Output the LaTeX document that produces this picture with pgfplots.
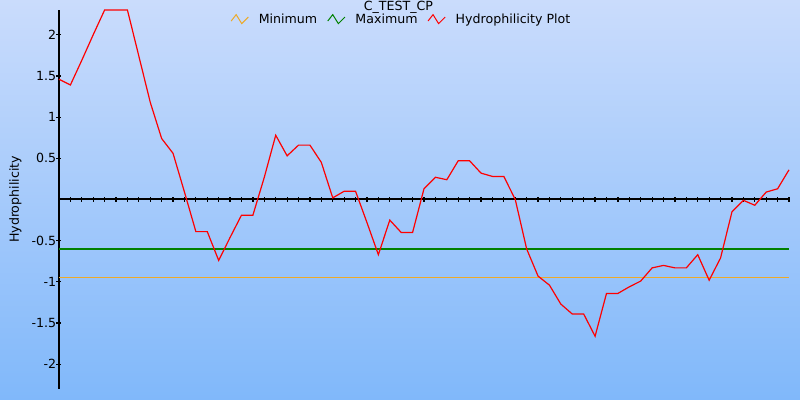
\documentclass[border=0pt]{standalone}
\usepackage{pgfplots}
\pgfplotsset{compat=1.18}
\usepackage{fontspec}
\setmainfont{DejaVu Sans}
\definecolor{bgtop}{RGB}{202,220,252}
\definecolor{bgbot}{RGB}{128,184,250}
\definecolor{minline}{RGB}{236,170,40}
\definecolor{maxline}{RGB}{0,128,0}
\newcommand{\chartfont}{\fontsize{6.3}{7.5}\selectfont}
\begin{document}
\begin{tikzpicture}
\shade[top color=bgtop, bottom color=bgbot] (0,0) rectangle (400pt,200pt);
\useasboundingbox (0,0) rectangle (400pt,200pt);
\begin{axis}[
    at={(29.5pt,5.5pt)}, anchor=south west,
    scale only axis, width=365pt, height=189.5pt,
    xmin=0, xmax=64, ymin=-2.3, ymax=2.3,
    axis x line=middle, axis y line=left,
    x axis line style={-}, y axis line style={-},
    axis line style={black, line width=1pt},
    xtick={0,...,64}, xticklabels={},
    ytick={-2,-1.5,-1,-0.5,0.5,1,1.5,2},
    yticklabels={-2,-1.5,-1,-0.5,0.5,1,1.5,2},
    tick align=center, major tick length=2.5pt,
    tick style={black, line width=0.6pt},
    tick label style={font=\chartfont},
    yticklabel style={anchor=east, inner sep=0pt, xshift=0pt},
    ylabel={Hydrophilicity},
    ylabel style={at={(axis description cs:-0.0596,0.5)}, anchor=center, font=\chartfont},
    title={C\_TEST\_CP},
    every axis title shift=0pt,
    title style={at={(axis description cs:0.465,1.0)}, anchor=base, font=\chartfont, inner sep=0pt, yshift=0pt},
    clip=false,
    legend columns=-1,
    legend style={at={(axis description cs:0.4678,0.973)}, anchor=center,
        draw=none, fill=none, font=\chartfont,
        nodes={inner sep=0pt}, column sep=5pt},
    legend image code/.code={\draw[#1, line width=0.5pt] (0pt,-0.4pt) -- (2.5pt,2.8pt) -- (5.3pt,-1.7pt) -- (8.6pt,1.6pt);},
]
\addplot[minline, line width=0.5pt] coordinates {(0,-0.95) (64,-0.95)};
\addlegendentry{Minimum}
\addplot[maxline, line width=1pt] coordinates {(0,-0.6) (64,-0.6)};
\addlegendentry{Maximum}
\addplot[red, line width=0.6pt] coordinates {
(0,1.46) (1,1.39) (2,1.69) (3,2.00) (4,2.30) (5,2.30) (6,2.30) (7,1.74)
(8,1.18) (9,0.74) (10,0.56) (11,0.09) (12,-0.39) (13,-0.39) (14,-0.74) (15,-0.46)
(16,-0.19) (17,-0.19) (18,0.27) (19,0.78) (20,0.53) (21,0.66) (22,0.66) (23,0.45)
(24,0.02) (25,0.10) (26,0.10) (27,-0.28) (28,-0.67) (29,-0.25) (30,-0.40) (31,-0.40)
(32,0.13) (33,0.27) (34,0.24) (35,0.47) (36,0.47) (37,0.32) (38,0.28) (39,0.28)
(40,0.00) (41,-0.60) (42,-0.93) (43,-1.04) (44,-1.27) (45,-1.39) (46,-1.39) (47,-1.66)
(48,-1.14) (49,-1.14) (50,-1.06) (51,-0.99) (52,-0.83) (53,-0.80) (54,-0.83) (55,-0.83)
(56,-0.67) (57,-0.98) (58,-0.71) (59,-0.15) (60,-0.01) (61,-0.07) (62,0.09) (63,0.13)
(64,0.36)
};
\addlegendentry{Hydrophilicity Plot}
\end{axis}
\end{tikzpicture}
\end{document}
